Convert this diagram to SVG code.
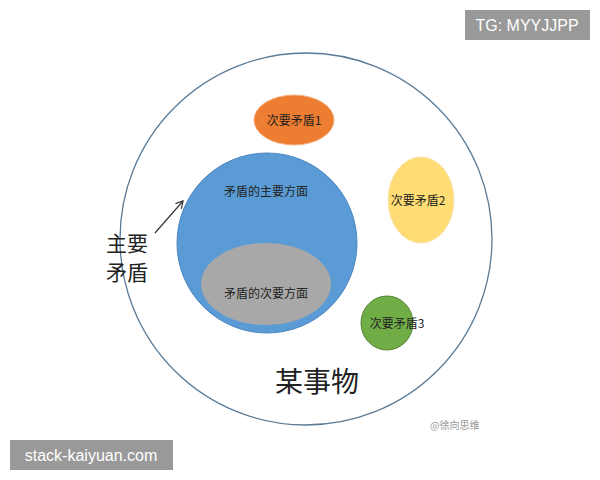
<svg xmlns="http://www.w3.org/2000/svg" width="600" height="480" viewBox="0 0 600 480">
<style>
.t{font-family:"Noto Sans CJK SC","Liberation Sans",sans-serif;fill:#222}
.s{font-size:12px;text-anchor:middle}
.b{font-family:"Liberation Sans",sans-serif;fill:#fff;font-size:16px}
</style>
<defs>
<marker id="a" markerWidth="8" markerHeight="8" refX="7" refY="4" orient="auto" markerUnits="userSpaceOnUse"><path d="M0,0 L7,4 L0,8" fill="none" stroke="#333" stroke-width="1.2"/></marker>
<clipPath id="c"><circle cx="267" cy="243" r="90"/></clipPath>
</defs>
<rect width="600" height="480" fill="#fff"/>
<g id="outer"><circle cx="306" cy="239" r="186" fill="none" stroke="#5a7a95" stroke-width="1.3"/>
<text class="t" x="317" y="392" font-size="28" text-anchor="middle">某事物</text></g>
<g id="main"><circle cx="267" cy="243" r="90" fill="#5b9bd5" stroke="#4a86bf"/>
<text class="t s" x="266" y="196">矛盾的主要方面</text>
<ellipse cx="266" cy="284" rx="65" ry="41" fill="#a8a8a8" clip-path="url(#c)"/>
<text class="t s" x="266" y="298">矛盾的次要方面</text></g>
<g id="m1"><ellipse cx="294" cy="120" rx="40" ry="25" fill="#ed7d31" stroke="#f4b183"/><text class="t s" x="294" y="125">次要矛盾1</text></g>
<g id="m2"><ellipse cx="421" cy="200" rx="33" ry="43" fill="#ffd966" stroke="#f6e2a8" opacity="0.9"/><text class="t s" x="418" y="205">次要矛盾2</text></g>
<g id="m3"><ellipse cx="387" cy="323" rx="26" ry="27" fill="#70ad47" stroke="#548235"/><text class="t s" x="397" y="328">次要矛盾3</text></g>
<g id="label"><text class="t" x="106" y="251" font-size="21">主要</text><text class="t" x="106" y="280" font-size="21">矛盾</text></g>
<g id="connectors"><line x1="155" y1="233" x2="183" y2="201" stroke="#333" stroke-width="1.2" marker-end="url(#a)"/></g>
<text x="430" y="429" font-family="Noto Sans CJK SC,sans-serif" font-size="10" fill="#999">@徐向思维</text>
<rect x="465" y="10" width="125" height="30" fill="#999"/><text class="b" x="527" y="31" text-anchor="middle">TG: MYYJJPP</text>
<rect x="10" y="440" width="163" height="30" fill="#999"/><text class="b" x="91" y="461" text-anchor="middle">stack-kaiyuan.com</text>
</svg>
